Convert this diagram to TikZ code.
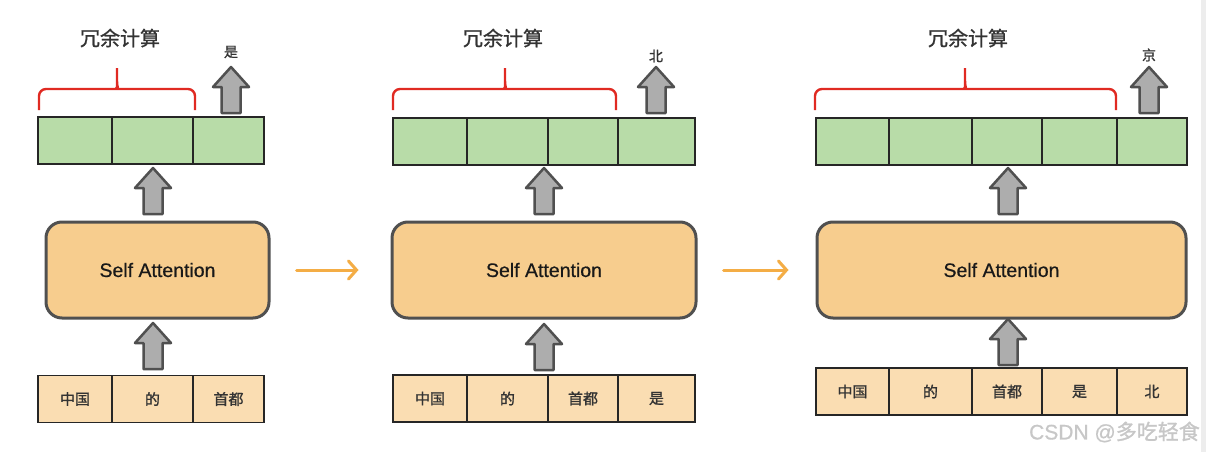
\documentclass[tikz,border=0pt]{standalone}
\usepackage{fontspec}
\setmainfont{Liberation Sans}[FakeBold=0.6]
\newfontfamily\cjk{Noto Sans CJK SC}[FakeBold=1.2]
\usetikzlibrary{arrows.meta,calc}

\definecolor{cellgreen}{HTML}{B8DCA8}
\definecolor{safill}{HTML}{F7CD8E}
\definecolor{incellfill}{HTML}{FADDB2}
\definecolor{braceRed}{HTML}{E02A22}
\definecolor{flowOrange}{HTML}{F4AD45}
\definecolor{arrowGray}{HTML}{ADADAD}
\definecolor{edgeGray}{HTML}{505050}

\tikzset{
  gcell/.style={draw=black!85, line width=1.6pt, fill=cellgreen, inner sep=0pt,
    outer sep=0pt, minimum height=47pt},
  icell/.style={draw=black!85, line width=1.6pt, fill=incellfill, inner sep=0pt,
    outer sep=0pt, minimum height=47pt, text=black!80,
    font=\cjk\fontsize{15}{15}\selectfont},
  sabox/.style={draw=edgeGray, line width=3pt, fill=safill, rounded corners=16pt,
    minimum height=96pt, inner sep=0pt, text=black!90,
    font=\fontsize{19.5}{20}\selectfont},
  redund/.style={text=black!80, font=\cjk\fontsize{20}{20}\selectfont},
  outlabel/.style={text=black!80, font=\cjk\fontsize{14}{14}\selectfont},
  brace/.style={draw=braceRed, line width=2.4pt, rounded corners=7pt},
  flow/.style={draw=flowOrange, line width=3pt, line cap=round,
    -{Straight Barb[length=8pt,width=18pt,line cap=round]}},
  blockarrow/.pic={
    \draw[fill=arrowGray, draw=edgeGray, line width=2.5pt, line join=round]
      (-9.5,0) -- (-9.5,-26) -- (-18,-26) -- (0,-46) -- (18,-26) -- (9.5,-26)
      -- (9.5,0) -- cycle;
  },
}

% red brace over the redundant cells: left x, tip x, right x
\newcommand\redbrace[3]{%
  \draw[brace] (#1,110) -- (#1,89) -- ({#2-7},89)
    .. controls ({#2-2},89) and (#2,88) .. (#2,80) -- (#2,68)
    (#2,80) .. controls (#2,88) and ({#2+2},89) .. ({#2+7},89)
    -- (#3,89) -- (#3,110);
}

\begin{document}
\begin{tikzpicture}[x=1pt,y=-1pt]
\useasboundingbox[fill=white] (0,0) rectangle (1206,452);
\fill[black!7] (1201,0) rectangle (1206,452);

% ---------- stage 1 ----------
\foreach \a/\b [count=\i] in {38/112,112/193,193/264}
  \node[gcell, minimum width={(\b-\a)*1pt}] (g1-\i) at ({(\a+\b)/2},140.5) {};
\foreach \a/\b/\t [count=\i] in {38/112/中国,112/193/的,193/264/首都}
  \node[icell, minimum width={(\b-\a)*1pt}] (in1-\i) at ({(\a+\b)/2},399) {\t};
\node[sabox, minimum width=223pt] (sa1) at (157.5,270) {Self Attention};
\redbrace{39}{117}{195}
\node[redund] (r1) at (120,38) {冗余计算};
\node[outlabel] (o1) at (231,52) {是};
\pic at (231,113) {blockarrow};
\pic at (153,214) {blockarrow};
\pic at (153,369) {blockarrow};

% ---------- stage 2 ----------
\foreach \a/\b [count=\i] in {393/467,467/548,548/618,618/695}
  \node[gcell, minimum width={(\b-\a)*1pt}] (g2-\i) at ({(\a+\b)/2},141.5) {};
\foreach \a/\b/\t [count=\i] in {393/467/中国,467/548/的,548/618/首都,618/695/是}
  \node[icell, minimum width={(\b-\a)*1pt}] (in2-\i) at ({(\a+\b)/2},398.5) {\t};
\node[sabox, minimum width=304pt] (sa2) at (544,270) {Self Attention};
\redbrace{393}{505}{616}
\node[redund] (r2) at (503,38) {冗余计算};
\node[outlabel] (o2) at (656,56) {北};
\pic at (656,113) {blockarrow};
\pic at (544,214) {blockarrow};
\pic at (544,370) {blockarrow};

% ---------- stage 3 ----------
\foreach \a/\b [count=\i] in {816/889,889/972,972/1042,1042/1117,1117/1187}
  \node[gcell, minimum width={(\b-\a)*1pt}] (g3-\i) at ({(\a+\b)/2},141.5) {};
\foreach \a/\b/\t [count=\i] in {816/889/中国,889/972/的,972/1042/首都,1042/1117/是,1117/1187/北}
  \node[icell, minimum width={(\b-\a)*1pt}] (in3-\i) at ({(\a+\b)/2},391.5) {\t};
\node[sabox, minimum width=369pt] (sa3) at (1001.5,270) {Self Attention};
\redbrace{815}{965}{1116}
\node[redund] (r3) at (968,38) {冗余计算};
\node[outlabel] (o3) at (1149,55) {京};
\pic at (1149,113) {blockarrow};
\pic at (1008,214) {blockarrow};
\pic at (1008,365) {blockarrow};

% ---------- step-to-step flow ----------
\draw[flow, shorten <=26pt, shorten >=32pt] (sa1.east) -- (sa2.west);
\draw[flow, shorten <=26pt, shorten >=27pt] (sa2.east) -- (sa3.west);

% ---------- watermark ----------
\node[anchor=east, inner sep=0pt, text=black!22, font=\fontsize{21}{21}\selectfont]
  (wm) at (1200,432) {CSDN @{\cjk 多吃轻食}};
\end{tikzpicture}
\end{document}
